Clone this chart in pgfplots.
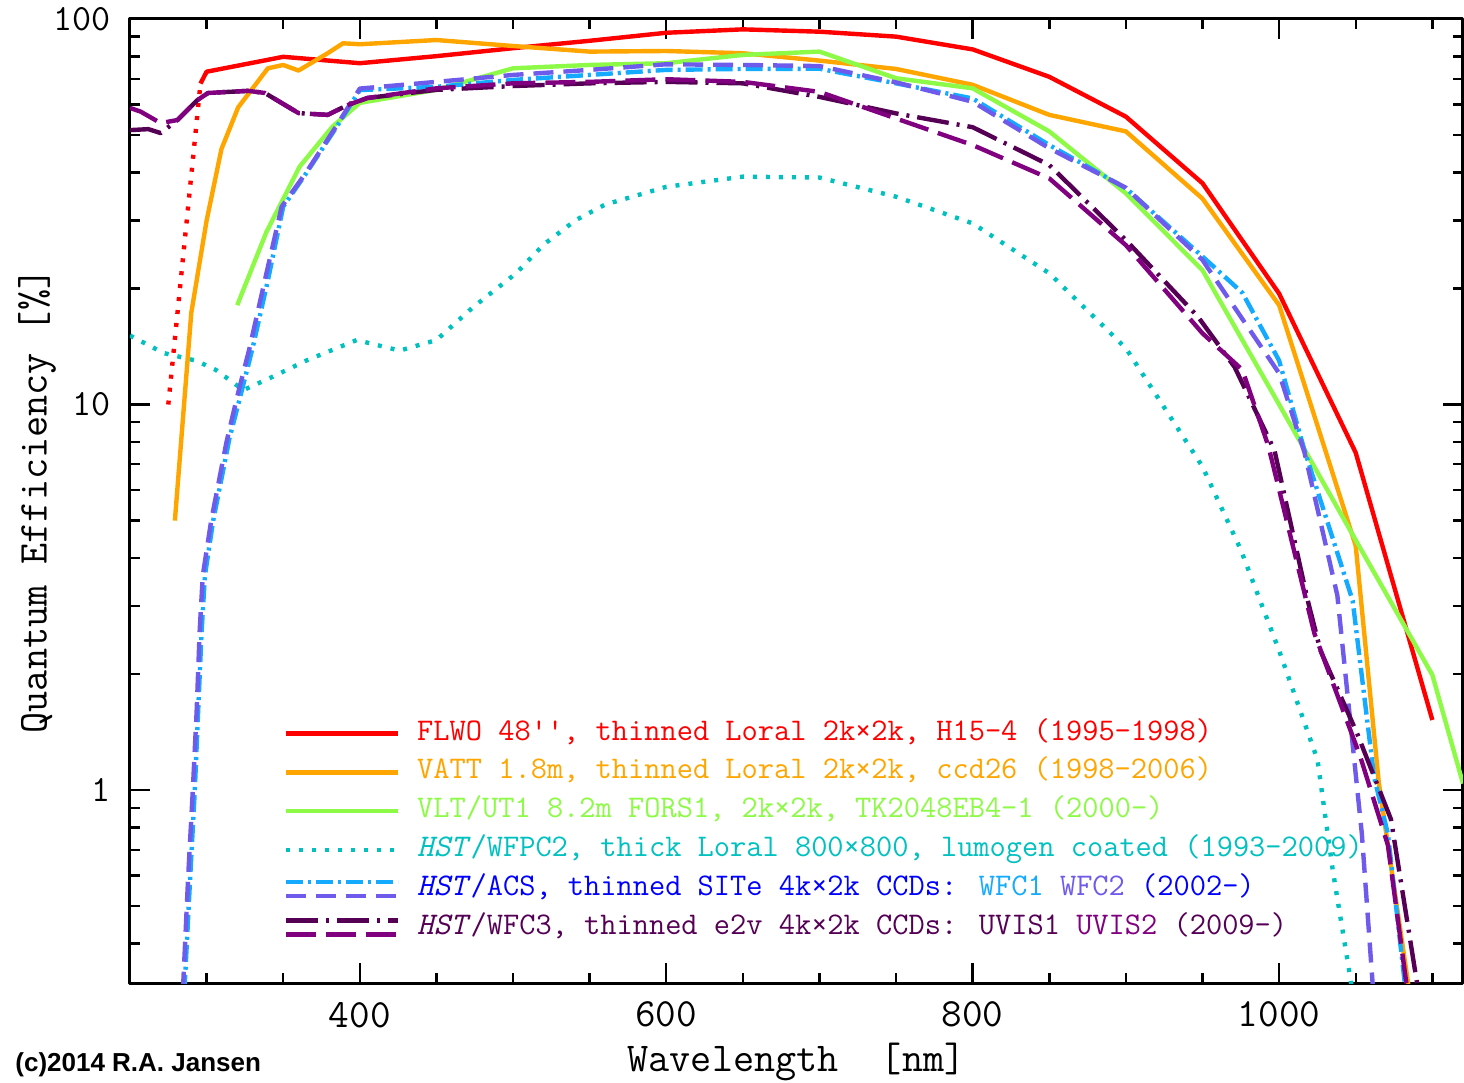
\documentclass[border=0pt]{standalone}
\usepackage{fontspec}
\usepackage{graphicx}
\usepackage{pgfplots}
\pgfplotsset{compat=1.18}
\newfontfamily\cpfont{Liberation Sans}
\renewcommand{\familydefault}{\ttdefault}
\definecolor{cOrange}{RGB}{255,165,0}
\definecolor{cGreen}{RGB}{140,250,70}
\definecolor{cCyan}{RGB}{0,192,192}
\definecolor{cWFC1}{RGB}{20,170,255}
\definecolor{cWFC2}{RGB}{110,90,235}
\definecolor{cACS}{RGB}{0,0,255}
\definecolor{cUV1}{RGB}{85,0,85}
\definecolor{cUV2}{RGB}{128,0,128}
\tikzset{
  sWFC1/.style={cWFC1, line width=2.2pt, dash pattern=on 8.5pt off 2.5pt on 1.5pt off 2.5pt},
  sWFC2/.style={cWFC2, line width=2.2pt, dash pattern=on 10pt off 5pt},
  sUV1/.style={cUV1, line width=2.2pt, dash pattern=on 16pt off 4pt on 1.5pt off 4pt},
  sUV2/.style={cUV2, line width=2.2pt, dash pattern=on 15pt off 5pt},
  sDot/.style={line width=2.2pt, dash pattern=on 2pt off 4.5pt},
}
\begin{document}
\begin{tikzpicture}
\path[use as bounding box] (-65pt,-50pt) rectangle (667pt,491.5pt);
\begin{axis}[
  at={(0,0)}, anchor=south west,
  scale only axis, width=666.5pt, height=482pt,
  xmin=250, xmax=1120, ymode=log, ymin=0.316, ymax=100,
  xtick={400,600,800,1000}, xticklabels={400,600,800,1000},
  minor xtick={250,300,...,1100},
  ytick={1,10,100}, yticklabels={1,10,100},
  minor ytick={0.4,0.5,0.6,0.7,0.8,0.9,2,3,4,5,6,7,8,9,20,30,40,50,60,70,80,90},
  tick align=inside,
  major tick length=10pt, minor tick length=5pt,
  every tick/.style={black, line width=1.2pt},
  axis line style={line width=1.5pt},
  xticklabel style={font=\fontsize{20}{20}\selectfont, yshift=-6pt},
  yticklabel style={font=\fontsize{18.5}{18.5}\selectfont, xshift=-6pt},
  xlabel={Wavelength\ \ [nm]},
  ylabel={Quantum Efficiency [\%]},
  label style={font=\fontsize{20.5}{20.5}\selectfont},
  xlabel style={at={(axis description cs:0.5,-0.082)}, anchor=center},
  ylabel style={at={(axis description cs:-0.0697,0.5)}, anchor=center},
  legend image code/.code={\draw[#1] (0pt,0pt) -- (56pt,0pt);},
  legend style={at={(axis description cs:0.1154,0.2728)}, anchor=north west,
    draw=none, fill=none, inner sep=0pt, outer sep=0pt,
    row sep=5.9pt, column sep=8.5pt,
    font=\fontsize{15.75}{15.75}\selectfont,
    nodes={inner sep=0pt, text height=10pt, text depth=3.5pt}},
  legend cell align=left,
  line join=round,
]
% FLWO
\addplot[red, sDot, forget plot] coordinates {(275,10) (296,68)};
\addplot[red, line width=2.2pt, forget plot] coordinates {
(296,68) (300,73) (350,79.8) (400,76.8) (450,80.1) (500,84) (550,87.8) (600,92.1)
(650,94) (700,92.7) (750,90) (800,83.4) (850,70.8) (900,55.8) (950,37.5)
(1000,19.4) (1050,7.5) (1100,1.52)};
% VATT
\addplot[cOrange, line width=2.2pt, forget plot] coordinates {
(279.3,5.0) (290,17.3) (300,30) (309.7,46) (320.6,59) (340,74.5) (350,76) (360,73.5)
(379,81.5) (389,86.5) (400,86) (450,88.2) (500,85.1) (550,82.3) (600,82.6) (650,81.5)
(700,78) (750,74.2) (800,67.5) (850,56.4) (900,51.1) (950,34.2) (1000,18.1)
(1050,4.3) (1065,1.05) (1085,0.3)};
% VLT
\addplot[cGreen, line width=2.2pt, forget plot] coordinates {
(320,18.1) (339,28) (360.7,41.4) (382,52.5) (400,60.6) (450,65.5) (500,74.5) (550,76)
(600,76.8) (650,80.7) (700,82.3) (750,70.2) (800,66.1) (850,51.1) (900,35.3)
(950,22.3) (1000,10) (1050,4.45) (1100,1.99) (1120,1.04)};
% WFPC2
\addplot[cCyan, sDot, forget plot] coordinates {
(250,15.1) (272,13.6) (293,13.0) (306,12.3) (324,10.9) (343,11.8) (365,13) (398,14.7)
(426,13.8) (450,14.7) (474,17.9) (502,21.9) (520,26) (541,30.1) (560,33) (600,36.7)
(650,39) (700,38.8) (750,34.6) (800,29.5) (850,21.9) (900,14) (950,6.9) (975,4.2)
(1000,2.3) (1025,1.2) (1035,0.62) (1047,0.316) (1050,0.25)};
% ACS WFC1
\addplot[sWFC1, forget plot] coordinates {
(285.5,0.3) (289,0.565) (292.3,1.0) (294.5,1.61) (296.7,2.56) (298.9,3.6) (304.3,5.0)
(315,8.2) (322,10.5) (330,14) (340,21) (350,32.6) (365,39.8) (385,52.6) (400,65.4)
(450,66.7) (500,69.5) (550,71.6) (600,73.8) (650,74.2) (700,74.3) (750,68.1) (800,62.2)
(850,47.1) (900,36.4) (950,24.2) (976,19.5) (1000,13) (1016.6,7.6) (1048,3.1)
(1062,1.08) (1071,0.77) (1082,0.316) (1084,0.28)};
% ACS WFC2
\addplot[sWFC2, forget plot] coordinates {
(284.5,0.3) (288,0.6) (291,1.0) (293.5,1.6) (295.5,2.6) (297.5,3.6) (303,5.0) (313,8.0)
(320,10.5) (328,14) (338,21) (349,32.6) (365,40) (385,53) (400,66) (450,68.7) (500,71.6)
(550,73.8) (600,76.3) (650,76) (700,75.5) (750,68.5) (800,61) (850,46.2) (900,36.5)
(950,23.7) (1000,12.05) (1016.6,7.5) (1038,3.2) (1054,0.77) (1061,0.316) (1062,0.29)};
% WFC3 UVIS1
\addplot[sUV1, forget plot] coordinates {
(250,51.5) (262,51.8) (270,50.6) (281,54.7) (294,61.6) (301,64.3) (327,65.1) (338,64.3)
(360,57) (379,56.4) (392,59.8) (405,62.4) (450,65.5) (500,67) (550,68.1) (600,68.7)
(650,68.1) (700,62.8) (750,56.9) (800,52.4) (850,41.8) (900,26.7) (947,16.9) (971,12.5)
(997,7.6) (1018.7,3.1) (1027,2.3) (1051,1.4) (1073,0.84) (1090,0.316) (1092,0.28)};
% WFC3 UVIS2
\addplot[sUV2, forget plot] coordinates {
(250,58.8) (257,57.5) (270,53.7) (281,54.7) (294,61.6) (301,64.3) (327,65.1) (338,64.3)
(360,57) (379,56.4) (392,59.8) (405,62.4) (450,66.1) (500,68.1) (550,68.7) (600,69.8)
(650,68.7) (700,64.7) (750,55.2) (800,47.1) (850,38.6) (900,25.9) (950,15.3) (976,12.3)
(993,7.8) (1023,2.55) (1053,1.22) (1071,0.72) (1083,0.316) (1085,0.28)};

\addlegendimage{red, line width=2.2pt}
\addlegendentry{\textcolor{red}{FLWO 48'{}', thinned Loral 2k×2k, H15-4 (1995-1998)}}
\addlegendimage{cOrange, line width=2.2pt}
\addlegendentry{\textcolor{cOrange}{VATT 1.8m, thinned Loral 2k×2k, ccd26 (1998-2006)}}
\addlegendimage{cGreen, line width=2.2pt}
\addlegendentry{\textcolor{cGreen}{VLT/UT1 8.2m FORS1, 2k×2k, TK2048EB4-1 (2000-)}}
\addlegendimage{cCyan, sDot}
\addlegendentry{\textcolor{cCyan}{\textit{HST}/WFPC2, thick Loral 800×800, lumogen coated (1993-2009)}}
\addlegendimage{legend image code/.code={\draw[sWFC1] (0pt,3.5pt) -- (56pt,3.5pt); \draw[sWFC2] (0pt,-3.5pt) -- (56pt,-3.5pt);}}
\addlegendentry{\textcolor{cACS}{\textit{HST}/ACS, thinned SITe 4k×2k CCDs: \textcolor{cWFC1}{WFC1} \textcolor{cWFC2}{WFC2} (2002-)}}
\addlegendimage{legend image code/.code={\draw[sUV1] (0pt,3.5pt) -- (56pt,3.5pt); \draw[sUV2] (0pt,-3.5pt) -- (56pt,-3.5pt);}}
\addlegendentry{\textcolor{cUV1}{\textit{HST}/WFC3, thinned e2v 4k×2k CCDs: UVIS1 \textcolor{cUV2}{UVIS2} (2009-)}}
\end{axis}
\node[anchor=west, inner sep=0pt] at (-57.5pt,-41pt) {\cpfont\bfseries\fontsize{13}{13}\selectfont (c)2014 R.A. Jansen};
\end{tikzpicture}
\end{document}
